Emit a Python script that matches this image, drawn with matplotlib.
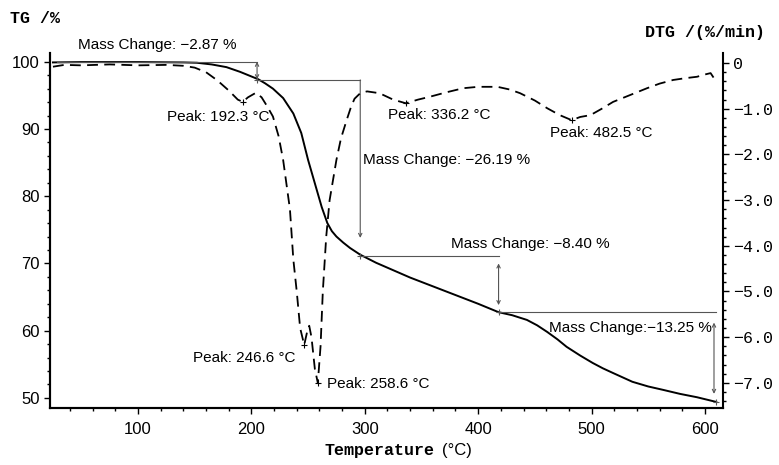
import numpy as np
import matplotlib
matplotlib.use("Agg")
import matplotlib.pyplot as plt

# TG curve (solid), temperature in degC vs mass %
tg_temp = [25, 50, 100, 140, 152, 165, 178, 190, 206, 212, 219, 228, 237, 244,
           250, 256, 262, 267, 271, 275, 281, 287, 296, 310, 325, 340, 360, 380,
           400, 418, 430, 443, 452, 461, 470, 478, 490, 501, 510, 519, 536, 550,
           563, 578, 593, 610]
tg_mass = [99.9, 99.95, 99.95, 99.9, 99.85, 99.6, 99.2, 98.5, 97.4, 96.8, 96.0, 94.6,
           92.3, 89.4, 85.4, 81.9, 78.4, 76.0, 74.8, 74.0, 73.1, 72.3, 71.3, 70.1,
           69.0, 67.9, 66.6, 65.3, 64.0, 62.75, 62.3, 61.6, 60.8, 59.8, 58.7, 57.6,
           56.3, 55.2, 54.4, 53.7, 52.4, 51.7, 51.2, 50.6, 50.1, 49.4]

# DTG curve (dashed), %/min
dtg_temp = [25, 35, 50, 75, 100, 125, 140, 150, 160, 170, 180, 188, 192.3, 197, 204,
            209, 214, 219, 224, 228, 234, 237, 240, 243, 246.6, 249, 251, 253, 256,
            258.6, 261, 263, 266, 269, 275, 279, 284, 288, 291, 296, 302,
            313, 325, 336.2, 347, 357, 372, 387, 400, 417, 428, 437, 450, 461, 472,
            482.5, 490, 499, 509, 519, 534, 549, 560, 572, 583, 593, 600, 605, 609]
dtg_rate = [-0.08, -0.04, -0.05, -0.03, -0.05, -0.04, -0.06, -0.1, -0.2, -0.38, -0.6,
            -0.8, -0.85, -0.75, -0.65, -0.75, -0.95, -1.17, -1.6, -2.12, -3.2, -4.3,
            -5.0, -5.8, -6.17, -5.9, -5.75, -6.0, -6.7, -7.0, -6.2, -5.0, -3.8, -3.0,
            -2.12, -1.65, -1.25, -0.95, -0.78, -0.66, -0.62, -0.66, -0.8, -0.88, -0.8,
            -0.74, -0.64, -0.55, -0.52, -0.52, -0.58, -0.66, -0.82, -0.99, -1.14,
            -1.25, -1.18, -1.14, -1.0, -0.85, -0.7, -0.55, -0.45, -0.37, -0.33, -0.3,
            -0.25, -0.22, -0.37]

# peaks on DTG
peak_temp = [192.3, 246.6, 258.6, 336.2, 482.5]
peak_rate = [-0.85, -6.17, -7.0, -0.88, -1.25]
peak_text = ["Peak: 192.3 °C", "Peak: 246.6 °C", "Peak: 258.6 °C",
             "Peak: 336.2 °C", "Peak: 482.5 °C"]
peak_text_pos = [(170.5, 91.8, "center"), (193.5, 56.0, "center"),
                 (266.7, 52.1, "left"), (365.4, 92.1, "center"),
                 (508.3, 89.4, "center")]

# mass change steps (start temp, end temp, start mass, end mass)
step_temp = [25, 205, 296, 418, 610]
step_mass = [100.0, 97.3, 71.1, 62.75, 49.4]
step_text = ["Mass Change: \u22122.87 %", "Mass Change: \u221226.19 %",
             "Mass Change: \u22128.40 %", "Mass Change:\u221213.25 %"]

left_ticks = [50, 60, 70, 80, 90, 100]
right_ticks = [0, -1, -2, -3, -4, -5, -6, -7]
right_labels = ["0", "\u22121.0", "\u22122.0", "\u22123.0", "\u22124.0",
                "\u22125.0", "\u22126.0", "\u22127.0"]
x_ticks = [100, 200, 300, 400, 500, 600]

plt.rcParams['font.family'] = ['Liberation Sans', 'DejaVu Sans']
mono = ['Liberation Mono', 'DejaVu Sans Mono']

fig = plt.figure(figsize=(7.79, 4.65), dpi=100)
ax = fig.add_axes([0.0642, 0.1226, 0.8640, 0.7634])
ax2 = ax.twinx()

ax.plot(tg_temp, tg_mass, color='black', lw=1.4, solid_joinstyle='round')
ax2.plot(dtg_temp, dtg_rate, color='black', lw=1.3, dashes=(6, 3.5))

ax.set_xlim(22.4, 616)
ax.set_ylim(48.5, 101.3)
ax2.set_ylim(-7.55, 0.22)

# step lines and arrows
gray = '#555555'
for i in range(4):
    x0, x1 = step_temp[i], step_temp[i + 1]
    y0, y1 = step_mass[i], step_mass[i + 1]
    ax.plot([x0 if i else 29, x1], [y0, y0], color=gray, lw=0.8)
    ax.plot(x1, y1, marker='+', color=gray, ms=5, mew=0.8)

arrow_kw = dict(color=gray, lw=0.8, mutation_scale=6, shrinkA=0, shrinkB=0)
ax.annotate('', xy=(205, 97.4), xytext=(205, 100.0),
            arrowprops=dict(arrowstyle='<->', **arrow_kw))
ax.annotate('', xy=(296, 73.8), xytext=(296, 97.3),
            arrowprops=dict(arrowstyle='->', **arrow_kw))
ax.annotate('', xy=(418, 63.8), xytext=(418, 70.0),
            arrowprops=dict(arrowstyle='<->', **arrow_kw))
ax.annotate('', xy=(608, 50.6), xytext=(608, 61.2),
            arrowprops=dict(arrowstyle='<->', **arrow_kw))

ax.text(116.8, 102.5, step_text[0], fontsize=11, ha='center', va='center', clip_on=False)
ax.text(298.4, 85.4, step_text[1], fontsize=11, ha='left', va='center')
ax.text(445.7, 72.9, step_text[2], fontsize=11, ha='center', va='center')
ax.text(606.2, 60.4, step_text[3], fontsize=11, ha='right', va='center')

for t, r in zip(peak_temp, peak_rate):
    ax2.plot(t, r, marker='+', color='black', ms=5, mew=0.8)
for s, (px, py, ha) in zip(peak_text, peak_text_pos):
    ax.text(px, py, s, fontsize=11, ha=ha, va='center')

# axes styling
for a in (ax, ax2):
    a.spines['top'].set_visible(False)
    for sp in a.spines.values():
        sp.set_linewidth(1.5)
ax.spines['right'].set_visible(False)

ax.set_xticks(x_ticks)
ax.set_xticks(np.arange(40, 616, 20), minor=True)
ax.set_yticks(left_ticks)
ax.set_yticks(np.arange(50, 101, 2), minor=True)
ax.tick_params(axis='both', which='major', labelsize=12, direction='out', length=4, width=1)
ax.tick_params(axis='both', which='minor', direction='out', length=2.5, width=1)
ax.tick_params(axis='x', pad=6)

ax2.set_yticks(right_ticks)
ax2.set_yticklabels(right_labels, family=mono, fontsize=12)
ax2.set_yticks(np.arange(-7.4, 0.1, 0.2), minor=True)
ax2.tick_params(axis='y', which='major', direction='out', length=4, width=1)
ax2.tick_params(axis='y', which='minor', direction='out', length=2.5, width=1)

fig.text(0.013, 0.961, "TG /%", family=mono, fontweight='bold', fontsize=12,
         ha='left', va='center')
fig.text(0.982, 0.931, "DTG /(%/min)", family=mono, fontweight='bold', fontsize=12,
         ha='right', va='center')
fig.text(0.417, 0.032, "Temperature", family=mono, fontweight='bold', fontsize=12,
         ha='left', va='center')
fig.text(0.567, 0.032, "(°C)", fontsize=12, ha='left', va='center')

fig.savefig("out.png", dpi=100)
